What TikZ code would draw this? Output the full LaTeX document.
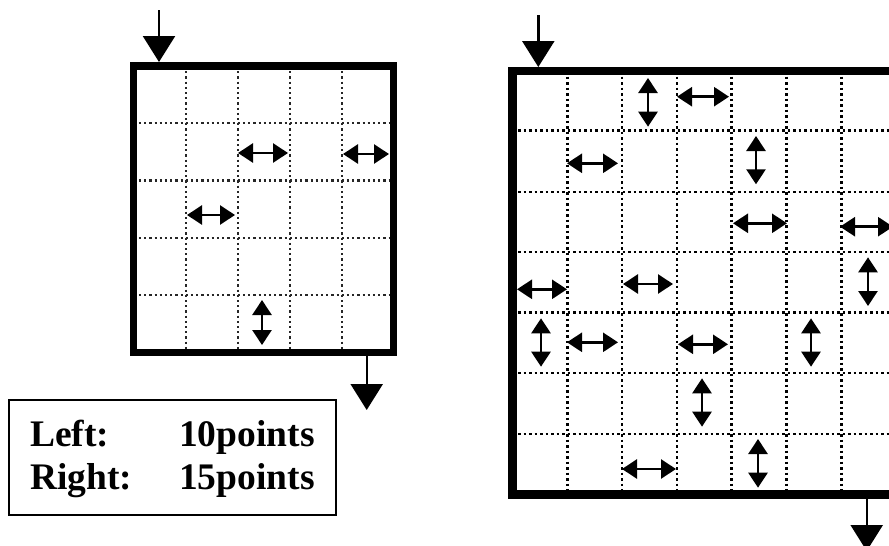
\documentclass[tikz,border=0pt]{standalone}
\usepackage{fontspec}
\setmainfont{Liberation Serif}
\usetikzlibrary{arrows.meta}
\begin{document}
\begin{tikzpicture}[x=1pt,y=-1pt,
  frame/.style={line width=8pt},
  gridline/.style={line width=2.7pt, dash pattern=on 2.7pt off 2.8pt},
  finegrid/.style={line width=2.3pt, black!85, dash pattern=on 2.2pt off 3pt},
  dbl/.style={line width=2.6pt,{Triangle[length=15pt,width=19pt]}-{Triangle[length=15pt,width=19pt]}},
  flow/.style={line width=2.4pt,-{Triangle[length=26pt,width=32pt]}},
  score/.style={font=\bfseries\fontsize{37.5}{40}\selectfont, anchor=base west, inner sep=0pt}]
\useasboundingbox (0,0) rectangle (889,546);
\clip (0,0) rectangle (889,546);
\fill[white] (0,0) rectangle (889,546);

% ---- left board: 5 x 5 cells ----
\foreach \x in {185.7,237.7,289.7,341.7} \draw[finegrid] (\x,66) -- (\x,352.5);
\foreach \y in {123.3,180.6,237.9,295.2} \draw[finegrid] (133.7,\y) -- (393.7,\y);
\draw[frame, line width=7.5pt] (133.7,66) rectangle (393.7,352.5);

% moves on the left board
\draw[dbl] (238,153) -- (288,153);
\draw[dbl] (343,154) -- (389,154);
\draw[dbl] (187,215) -- (235,215);
\draw[dbl] (262,300) -- (262,345);

% entry and exit of the left board
\coordinate (Lin0) at (159,10);
\coordinate (Lin1) at (159,62);
\coordinate (Lout0) at (366.7,356);
\coordinate (Lout1) at (366.7,410);
\draw[flow] (Lin0) -- (Lin1);
\draw[flow] (Lout0) -- (Lout1);

% ---- right board: 7 x 7 cells ----
\foreach \x in {567.3,622.1,676.9,731.7,786.5,841.3} \draw[gridline] (\x,71) -- (\x,494.5);
\foreach \y in {130.5,192,252,312.7,373,434} \draw[gridline] (512.5,\y) -- (896,\y);
\draw[frame, line width=8.5pt] (512.5,71) rectangle (896,494.5);

% moves on the right board
\draw[dbl] (677,96.7) -- (729,96.7);
\draw[dbl] (567,163.3) -- (618,163.3);
\draw[dbl] (733,223.3) -- (787,223.3);
\draw[dbl] (840,226.7) -- (893,226.7);
\draw[dbl] (517,289.3) -- (567,289.3);
\draw[dbl] (623,284) -- (673,284);
\draw[dbl] (567,342.3) -- (618,342.3);
\draw[dbl] (678,344.3) -- (728,344.3);
\draw[dbl] (622,469) -- (676,469);
\draw[dbl] (648,78) -- (648,126.7);
\draw[dbl] (756,136) -- (756,184.3);
\draw[dbl] (868,257.3) -- (868,306);
\draw[dbl] (541,318.3) -- (541,366.7);
\draw[dbl] (811,318.3) -- (811,366.7);
\draw[dbl] (702,378.3) -- (702,426.7);
\draw[dbl] (758,439) -- (758,487.7);

% entry and exit of the right board
\coordinate (Rin0) at (538.3,15);
\coordinate (Rin1) at (538.3,67);
\coordinate (Rout0) at (866.7,499);
\coordinate (Rout1) at (866.7,551);
\draw[flow] (Rin0) -- (Rin1);
\draw[flow] (Rout0) -- (Rout1);

% ---- score box ----
\draw[line width=2pt] (9,400) rectangle (336,515);
\node[score] (leftname) at (30,446.7) {Left:};
\node[score] (leftpts) at (179,446.7) {10points};
\node[score] (rightname) at (30,489) {Right:};
\node[score] (rightpts) at (179,489) {15points};
\end{tikzpicture}
\end{document}
